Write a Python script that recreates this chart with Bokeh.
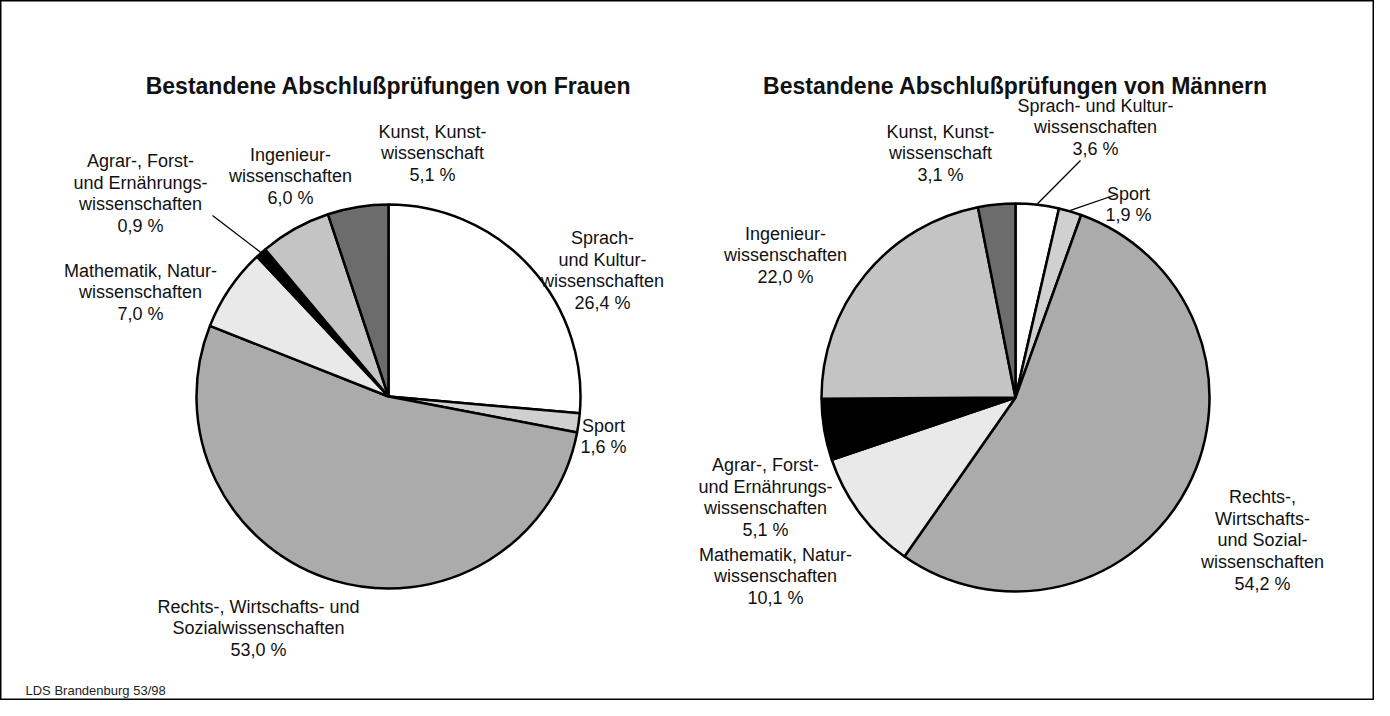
import numpy as np
from bokeh.plotting import figure
from bokeh.models import ColumnDataSource, Range1d
from bokeh.core.properties import value
from bokeh.embed import file_html
from bokeh.resources import INLINE

# ---------------- data ----------------
categories = ["Sprach- und Kulturwissenschaften", "Sport",
              "Rechts-, Wirtschafts- und Sozialwissenschaften",
              "Mathematik, Naturwissenschaften",
              "Agrar-, Forst- und Ernährungswissenschaften",
              "Ingenieurwissenschaften", "Kunst, Kunstwissenschaft"]
frauen = [26.4, 1.6, 53.0, 7.0, 0.9, 6.0, 5.1]
maenner = [3.6, 1.9, 54.2, 10.1, 5.1, 22.0, 3.1]
labels_frauen = ["Sprach-\nund Kultur-\nwissenschaften", "Sport",
                 "Rechts-, Wirtschafts- und\nSozialwissenschaften",
                 "Mathematik, Natur-\nwissenschaften",
                 "Agrar-, Forst-\nund Ernährungs-\nwissenschaften",
                 "Ingenieur-\nwissenschaften", "Kunst, Kunst-\nwissenschaft"]
labels_maenner = ["Sprach- und Kultur-\nwissenschaften", "Sport",
                  "Rechts-,\nWirtschafts-\nund Sozial-\nwissenschaften",
                  "Mathematik, Natur-\nwissenschaften",
                  "Agrar-, Forst-\nund Ernährungs-\nwissenschaften",
                  "Ingenieur-\nwissenschaften", "Kunst, Kunst-\nwissenschaft"]
title_frauen = "Bestandene Abschlußprüfungen von Frauen"
title_maenner = "Bestandene Abschlußprüfungen von Männern"
footer = "LDS Brandenburg 53/98"

# ---------------- style / layout ----------------
colors = ["#ffffff", "#d0d0d0", "#ababab", "#e9e9e9", "#000000", "#c4c4c4", "#6c6c6c"]
FONT = value("Liberation Sans")
W, H = 1374, 700


def Y(y):
    # layout positions below are given in picture pixels (top-down)
    return H - y


pies = [
    dict(values=frauen, labels=labels_frauen, title=title_frauen,
         cx=388, cy=396, r=192, title_y=85,
         label_pos=[(602, 270), (603, 436), (258, 628), (140, 292),
                    (140, 193), (290, 176), (432, 153)],
         leaders={4: (212, 215)}),
    dict(values=maenner, labels=labels_maenner, title=title_maenner,
         cx=1015, cy=397, r=194, title_y=85,
         label_pos=[(1095, 127), (1128, 204), (1262, 540), (775, 576),
                    (765, 497), (785, 255), (940, 153)],
         leaders={0: (1080, 160), 1: (1116, 194)}),
]

p = figure(width=W, height=H, output_backend="svg", toolbar_location=None,
           x_range=Range1d(0, W), y_range=Range1d(0, H),
           x_axis_type=None, y_axis_type=None, min_border=0)
p.grid.visible = False
p.outline_line_color = "black"
p.outline_line_width = 2
p.background_fill_color = "white"
p.border_fill_color = "white"

for pie in pies:
    vals = np.array(pie["values"], dtype=float)
    frac = vals / vals.sum()
    c1 = np.cumsum(frac)
    c0 = c1 - frac
    start = np.pi / 2 - 2 * np.pi * c1
    end = np.pi / 2 - 2 * np.pi * c0
    cy = Y(pie["cy"])
    src = ColumnDataSource(dict(start=start, end=end, color=colors))
    p.wedge(x=pie["cx"], y=cy, radius=pie["r"], start_angle="start", end_angle="end",
            fill_color="color", line_color="black", line_width=2.5,
            direction="anticlock", source=src)

    texts = [l + "\n" + f"{v:.1f}".replace(".", ",") + " %"
             for l, v in zip(pie["labels"], vals)]
    lx = [pt[0] for pt in pie["label_pos"]]
    ly = [Y(pt[1]) for pt in pie["label_pos"]]
    p.text(x=lx, y=ly, text=texts, text_align="center", text_baseline="middle",
           text_font=FONT, text_font_size="18px", text_line_height=1.08,
           text_color="#111111")

    # leader lines from label to the wedge's outer edge
    for idx, (sx, sy) in pie["leaders"].items():
        mid = (c0[idx] + c1[idx]) / 2
        ang = 2 * np.pi * mid
        ex = pie["cx"] + (pie["r"] + 1) * np.sin(ang)
        ey = cy + (pie["r"] + 1) * np.cos(ang)
        p.segment(x0=[sx], y0=[Y(sy)], x1=[ex], y1=[ey], line_color="black", line_width=1.3)

    p.text(x=[pie["cx"]], y=[Y(pie["title_y"])], text=[pie["title"]],
           text_align="center", text_baseline="middle", text_font=FONT,
           text_font_size="23px", text_font_style="bold", text_color="#111111")

p.text(x=[25], y=[Y(690)], text=[footer], text_align="left", text_baseline="middle",
       text_font=FONT, text_font_size="13px", text_color="#222222")

open("out.html", "w").write(file_html(p, INLINE))
